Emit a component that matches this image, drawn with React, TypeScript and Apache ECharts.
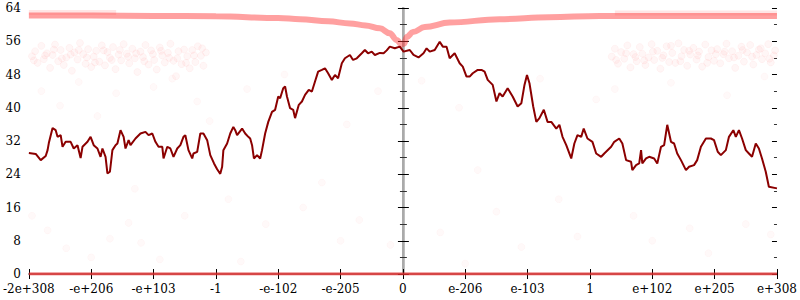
import React, { useEffect, useRef } from "react";
import * as echarts from "echarts";

const xLabels = ["-2e+308", "-e+206", "-e+103", "-1", "-e-102", "-e-205", "0", "e-206", "e-103", "1", "e+102", "e+205", "e+308"];
const yTicks = [0, 8, 16, 24, 32, 40, 48, 56, 64];

const mainLine: number[][] = [
  [-6.0, 29.1], [-5.89, 28.9], [-5.81, 27.4], [-5.73, 28.4], [-5.7, 29.8], [-5.68, 31.5], [-5.62, 35.1], [-5.57, 34.6],
  [-5.54, 33.0], [-5.49, 33.4], [-5.46, 30.6], [-5.41, 31.8], [-5.33, 31.8], [-5.28, 30.2], [-5.22, 31.0], [-5.17, 27.9],
  [-5.14, 30.6], [-5.06, 31.8], [-5.01, 33.0], [-4.96, 31.0], [-4.9, 30.2], [-4.85, 28.2], [-4.82, 30.2], [-4.77, 28.2],
  [-4.74, 24.2], [-4.7, 24.6], [-4.66, 29.8], [-4.61, 31.0], [-4.58, 31.4], [-4.53, 34.6], [-4.48, 33.0], [-4.45, 30.2],
  [-4.4, 32.2], [-4.37, 31.0], [-4.29, 32.6], [-4.21, 33.8], [-4.13, 34.2], [-4.08, 33.4], [-4.02, 33.8], [-3.97, 31.8],
  [-3.92, 30.6], [-3.86, 30.6], [-3.84, 27.8], [-3.78, 30.6], [-3.73, 30.2], [-3.68, 28.2], [-3.62, 30.2], [-3.57, 31.0],
  [-3.52, 33.0], [-3.49, 33.4], [-3.44, 29.8], [-3.38, 27.8], [-3.36, 29.0], [-3.3, 29.4], [-3.25, 33.8], [-3.2, 33.8],
  [-3.14, 32.2], [-3.09, 28.6], [-3.03, 26.6], [-2.98, 25.2], [-2.93, 24.1], [-2.9, 25.8], [-2.88, 29.8], [-2.82, 31.4],
  [-2.77, 33.8], [-2.72, 35.4], [-2.69, 34.6], [-2.66, 33.4], [-2.58, 35.0], [-2.53, 33.8], [-2.48, 33.0], [-2.45, 32.6],
  [-2.42, 31.0], [-2.39, 27.8], [-2.34, 28.6], [-2.29, 27.8], [-2.26, 29.8], [-2.21, 33.8], [-2.16, 36.6], [-2.1, 39.0],
  [-2.05, 39.5], [-2.0, 42.7], [-1.97, 42.3], [-1.92, 44.7], [-1.89, 45.1], [-1.86, 42.7], [-1.81, 39.9], [-1.76, 39.5],
  [-1.73, 37.5], [-1.67, 40.7], [-1.62, 41.5], [-1.57, 43.1], [-1.51, 44.3], [-1.46, 43.9], [-1.41, 46.3], [-1.36, 48.7],
  [-1.3, 49.1], [-1.25, 49.5], [-1.2, 48.3], [-1.14, 46.7], [-1.09, 47.9], [-1.04, 47.1], [-0.98, 50.7], [-0.93, 51.9],
  [-0.85, 52.7], [-0.8, 51.5], [-0.74, 51.9], [-0.66, 53.1], [-0.61, 53.9], [-0.56, 53.1], [-0.5, 53.5], [-0.45, 52.7],
  [-0.37, 53.2], [-0.31, 53.1], [-0.26, 53.8], [-0.21, 54.7], [-0.13, 54.3], [-0.05, 54.7], [0.01, 53.5], [0.11, 53.9],
  [0.17, 52.7], [0.25, 52.1], [0.33, 53.1], [0.38, 54.3], [0.43, 53.5], [0.51, 53.9], [0.59, 55.9], [0.64, 54.7],
  [0.7, 54.7], [0.75, 51.9], [0.83, 53.1], [0.91, 50.7], [0.96, 49.9], [1.02, 47.5], [1.07, 47.5], [1.12, 48.3],
  [1.2, 49.1], [1.26, 49.1], [1.31, 48.7], [1.36, 46.7], [1.44, 45.5], [1.5, 41.5], [1.55, 43.5], [1.6, 42.7],
  [1.68, 44.7], [1.76, 42.7], [1.84, 40.3], [1.9, 41.1], [1.95, 45.5], [1.99, 47.9], [2.03, 45.9], [2.09, 40.3],
  [2.14, 36.6], [2.19, 37.5], [2.26, 39.5], [2.32, 36.6], [2.38, 36.6], [2.46, 35.0], [2.51, 35.9], [2.56, 33.0],
  [2.62, 31.0], [2.7, 27.8], [2.75, 31.4], [2.8, 33.4], [2.86, 33.0], [2.9, 35.0], [2.96, 32.6], [3.04, 31.8],
  [3.1, 29.0], [3.18, 28.2], [3.23, 29.0], [3.34, 30.6], [3.39, 31.8], [3.47, 32.6], [3.52, 31.4], [3.58, 27.4],
  [3.66, 27.0], [3.68, 25.0], [3.74, 26.2], [3.79, 26.6], [3.82, 29.8], [3.84, 26.6], [3.9, 27.8], [3.95, 28.2],
  [4.03, 27.8], [4.08, 26.6], [4.14, 30.6], [4.19, 31.0], [4.24, 35.9], [4.3, 31.8], [4.35, 31.4], [4.4, 29.0],
  [4.46, 27.4], [4.54, 25.0], [4.59, 25.8], [4.67, 26.2], [4.72, 27.4], [4.78, 30.6], [4.86, 32.6], [4.94, 32.6],
  [4.99, 32.2], [5.05, 29.4], [5.1, 28.6], [5.18, 29.8], [5.23, 33.0], [5.3, 34.6], [5.34, 33.0], [5.39, 34.6],
  [5.44, 32.6], [5.5, 29.8], [5.55, 29.0], [5.6, 28.2], [5.66, 31.4], [5.71, 30.2], [5.76, 27.8], [5.82, 24.6],
  [5.87, 21.0], [6.0, 20.6],
];

const topCurve: number[][] = [
  [-6, 62.2], [-5, 62.2], [-4, 62.1], [-3, 62.0], [-2, 61.6], [-1.65, 61.3], [-1.2, 60.8], [-0.85, 60.3],
  [-0.6, 59.8], [-0.37, 59.1], [-0.21, 57.9], [-0.1, 56.3], [-0.02, 55.2], [0.02, 55.4], [0.06, 57.0],
  [0.16, 58.2], [0.35, 59.4], [0.75, 60.5], [1.55, 61.3], [2.35, 61.8], [3.15, 62.1], [4.5, 62.1], [6, 62.1],
];

const topRowLeft: number[][] = [[-6, 62.9], [-4.6, 62.9]];
const topRowRight: number[][] = [[3.4, 62.8], [6, 62.8]];
const zeroRow: number[][] = [[-6, 0], [6, 0]];

const leftCloud: number[][] = [
  [-5.95, 52.4], [-5.9, 53.6], [-5.86, 50.8], [-5.8, 54.9], [-5.76, 51.7], [-5.71, 53.1], [-5.66, 49.6], [-5.62, 52.7],
  [-5.58, 55.2], [-5.53, 51.2], [-5.49, 53.9], [-5.44, 50.3], [-5.4, 52.1], [-5.35, 54.4], [-5.31, 48.9], [-5.27, 53.3],
  [-5.22, 51.6], [-5.18, 55.6], [-5.13, 52.9], [-5.09, 50.6], [-5.05, 54.1], [-5.0, 49.8], [-4.96, 52.3], [-4.92, 53.7],
  [-4.87, 51.1], [-4.83, 55.0], [-4.78, 50.2], [-4.74, 53.4], [-4.7, 52.0], [-4.65, 54.6], [-4.61, 49.3], [-4.56, 52.8],
  [-4.52, 51.4], [-4.48, 55.3], [-4.43, 53.0], [-4.39, 50.7], [-4.34, 54.2], [-4.3, 51.9], [-4.26, 48.6], [-4.21, 53.5],
  [-4.17, 52.2], [-4.13, 55.1], [-4.08, 50.4], [-4.04, 53.8], [-3.99, 51.5], [-3.95, 49.2], [-3.9, 54.5], [-3.86, 52.6],
  [-3.82, 50.9], [-3.77, 53.2], [-3.73, 55.4], [-3.68, 51.3], [-3.64, 47.6], [-3.6, 53.6], [-3.55, 50.5], [-3.51, 54.0],
  [-3.46, 52.4], [-3.42, 49.5], [-3.38, 53.9], [-3.33, 51.0], [-3.29, 54.8], [-3.24, 52.5], [-3.2, 50.1], [-3.16, 53.3],
  [-5.92, 51.4], [-5.74, 52.6], [-5.6, 54.0], [-5.47, 51.9], [-5.33, 52.8], [-5.2, 53.9], [-5.07, 52.1], [-4.94, 50.9],
  [-4.8, 53.8], [-4.67, 51.5], [-4.54, 53.9], [-4.41, 52.3], [-4.28, 53.1], [-4.15, 51.2], [-4.01, 52.9], [-3.88, 53.7],
  [-3.75, 52.0], [-3.62, 51.9], [-3.48, 50.8], [-3.35, 52.6], [-3.22, 54.3],
];

const rightCloud: number[][] = [
  [3.35, 52.3], [3.4, 54.2], [3.45, 50.6], [3.5, 53.4], [3.55, 51.8], [3.6, 55.0], [3.65, 49.7], [3.7, 52.9],
  [3.75, 51.2], [3.8, 54.6], [3.84, 53.0], [3.89, 50.3], [3.94, 52.1], [3.99, 55.3], [4.03, 51.5], [4.08, 53.7],
  [4.13, 49.4], [4.18, 52.6], [4.23, 54.8], [4.27, 51.0], [4.32, 53.2], [4.37, 50.8], [4.42, 55.5], [4.47, 52.4],
  [4.51, 53.9], [4.56, 50.1], [4.61, 52.8], [4.66, 54.4], [4.71, 51.6], [4.75, 53.5], [4.8, 49.9], [4.85, 55.2],
  [4.9, 52.2], [4.95, 53.8], [4.99, 51.3], [5.04, 54.1], [5.09, 50.7], [5.14, 52.9], [5.19, 55.4], [5.23, 51.9],
  [5.28, 53.6], [5.33, 49.6], [5.38, 52.5], [5.43, 54.7], [5.47, 51.1], [5.52, 53.3], [5.57, 55.1], [5.62, 50.4],
  [5.67, 52.7], [5.71, 54.0], [5.76, 51.7], [5.81, 53.1], [5.86, 55.3], [5.9, 50.9], [5.95, 52.6], [3.42, 51.5],
  [3.58, 53.1], [3.73, 52.2], [3.87, 51.4], [4.01, 53.5], [4.16, 52.0], [4.3, 54.9], [4.45, 51.2], [4.59, 53.7],
  [4.73, 52.6], [4.88, 50.8], [5.02, 52.9], [5.16, 53.5], [5.31, 52.1], [5.45, 53.9], [5.6, 52.3], [5.74, 54.3],
  [5.88, 51.8], [5.97, 53.8],
];

const sparsePoints: number[][] = [
  [-5.8, 44.0], [-5.5, 40.5], [-5.2, 46.2], [-4.9, 38.0], [-4.6, 43.5], [-4.3, 20.5], [-4.0, 45.0], [-3.7, 47.0],
  [-3.3, 41.5], [-3.1, 36.8], [-5.7, 10.5], [-5.4, 6.2], [-5.0, 4.0], [-4.7, 8.5], [-4.4, 12.3], [-4.2, 7.5],
  [-3.9, 3.5], [-3.5, 14.0], [-2.8, 18.0], [-2.5, 44.5], [-2.2, 12.0], [-1.9, 48.0], [-1.6, 16.0], [-1.3, 22.0],
  [-1.0, 8.0], [-0.7, 13.0], [-0.4, 44.0], [-0.2, 7.0], [0.3, 46.5], [0.6, 10.0], [0.9, 40.0], [1.2, 25.0],
  [1.5, 15.0], [1.9, 6.5], [2.2, 47.0], [2.5, 18.0], [2.8, 9.0], [3.1, 42.0], [3.4, 44.5], [3.7, 14.0],
  [4.0, 8.0], [4.3, 46.0], [4.6, 11.0], [4.9, 5.0], [5.2, 43.0], [5.5, 12.0], [5.8, 47.5], [5.9, 9.5],
  [-5.95, 14.0], [-2.6, 3.0], [1.0, 2.5], [-0.9, 36.0],
];

const FONT = "DejaVu Serif";
const GRAY = "#aaaaaa";

function yAxisDef(pos: "left" | "right", inside: boolean, opts: any = {}) {
  return {
    type: "value",
    position: pos,
    min: 0,
    max: 64,
    interval: 8,
    axisLine: { show: opts.line !== false, lineStyle: { color: GRAY, width: opts.lineWidth ?? 2 } },
    axisTick: { show: true, inside, length: 5, lineStyle: { color: "#000", width: 1 } },
    minorTick: { show: true, splitNumber: 2, length: 3, lineStyle: { color: "#333", width: 1 } },
    axisLabel: opts.labels
      ? { show: true, fontFamily: FONT, fontSize: 12, color: "#000", margin: 8, formatter: (v: number) => (yTicks.includes(v) ? String(v) : "") }
      : { show: false },
    splitLine: { show: false },
    offset: opts.offset ?? 0,
  };
}

export default function App() {
  const ref = useRef<HTMLDivElement>(null);
  useEffect(() => {
    if (!ref.current) return;
    const chart = echarts.init(ref.current, null, { renderer: "svg" });
    const scatterStyle = (a: number, b: number) => ({
      color: `rgba(255,110,110,${a})`,
      borderColor: `rgba(255,60,60,${b})`,
      borderWidth: 1,
    });
    chart.setOption({
      animation: false,
      backgroundColor: "#fff",
      grid: { left: 28, right: 22, top: 8, bottom: 26, containLabel: false },
      xAxis: [
        {
          type: "value",
          position: "bottom",
          min: -6,
          max: 6,
          interval: 1,
          axisLine: { show: true, lineStyle: { color: GRAY, width: 2 } },
          axisTick: { show: true, inside: false, length: 5, lineStyle: { color: "#000", width: 1 } },
          axisLabel: {
            fontFamily: FONT,
            fontSize: 12,
            color: "#000",
            margin: 9,
            formatter: (v: number) => xLabels[Math.round(v) + 6] ?? "",
          },
          splitLine: { show: false },
        },
        {
          type: "value",
          position: "bottom",
          min: -6,
          max: 6,
          interval: 1,
          axisLine: { show: false },
          axisTick: { show: true, inside: true, length: 5, lineStyle: { color: "#000", width: 1 } },
          axisLabel: { show: false },
          splitLine: { show: false },
        },
        {
          type: "value",
          position: "top",
          min: -6,
          max: 6,
          interval: 1,
          axisLine: { show: true, lineStyle: { color: GRAY, width: 2 } },
          axisTick: { show: false },
          axisLabel: { show: false },
          splitLine: { show: false },
        },
      ],
      yAxis: [
        yAxisDef("left", false, { labels: true }),
        yAxisDef("left", true, { line: false }),
        yAxisDef("right", false, {}),
        yAxisDef("right", true, { line: false }),
        yAxisDef("left", false, { offset: -375, lineWidth: 1.5 }),
        yAxisDef("left", true, { offset: -375, line: false }),
      ],
      series: [
        {
          type: "scatter",
          data: sparsePoints,
          symbolSize: 7,
          itemStyle: scatterStyle(0.05, 0.03),
          z: 1,
        },
        {
          type: "scatter",
          data: leftCloud,
          symbolSize: 7,
          itemStyle: scatterStyle(0.08, 0.05),
          z: 1,
        },
        {
          type: "scatter",
          data: rightCloud,
          symbolSize: 7,
          itemStyle: scatterStyle(0.08, 0.05),
          z: 1,
        },
        {
          type: "line",
          data: topRowLeft,
          symbol: "none",
          lineStyle: { color: "rgba(255,70,70,0.14)", width: 5 },
          z: 2,
        },
        {
          type: "line",
          data: topRowRight,
          symbol: "none",
          lineStyle: { color: "rgba(255,70,70,0.14)", width: 5 },
          z: 2,
        },
        {
          type: "line",
          data: topCurve,
          symbol: "none",
          smooth: 0.4,
          smoothMonotone: "x",
          lineStyle: { color: "rgba(255,45,45,0.45)", width: 6 },
          z: 3,
        },
        {
          type: "line",
          data: zeroRow,
          symbol: "none",
          lineStyle: { color: "rgba(225,45,45,0.8)", width: 3 },
          z: 3,
        },
        {
          type: "line",
          data: mainLine,
          symbol: "none",
          lineStyle: { color: "#8b0000", width: 2 },
          z: 5,
        },
      ],
    });
    return () => chart.dispose();
  }, []);
  return <div ref={ref} style={{ width: 800, height: 300, position: "absolute", left: 0, top: 0 }} />;
}
